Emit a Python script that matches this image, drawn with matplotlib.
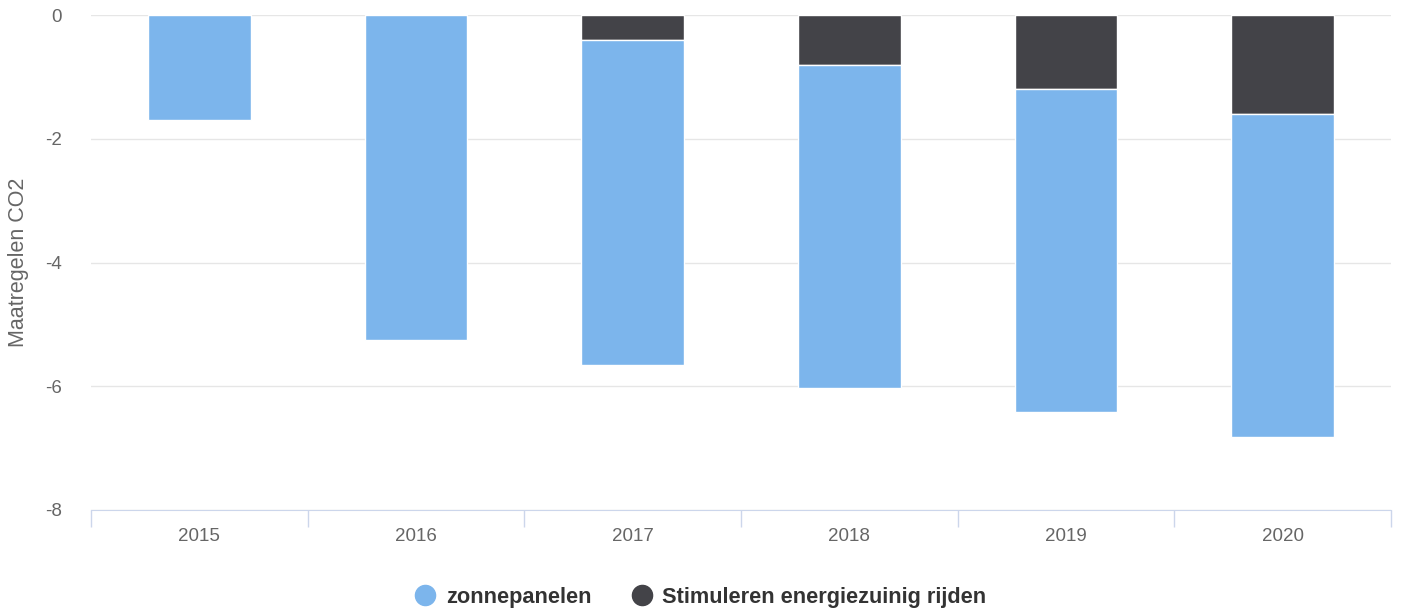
import matplotlib.pyplot as plt
import numpy as np

plt.rcParams['font.family'] = ['Liberation Sans', 'DejaVu Sans']

years = ['2015', '2016', '2017', '2018', '2019', '2020']
zonnepanelen = [-1.70, -5.25, -5.26, -5.22, -5.22, -5.22]
stimuleren = [0.0, 0.0, -0.40, -0.81, -1.20, -1.60]

blue = '#7cb5ec'
dark = '#434348'
txt = '#666666'

fig = plt.figure(figsize=(14.01, 6.14), dpi=100)
ax = fig.add_axes([91 / 1401, 104 / 614, 1300 / 1401, 495 / 614])

x = np.arange(len(years))
w = 0.475
ax.bar(x, stimuleren, width=w, color=dark, edgecolor='white', linewidth=1, zorder=3)
ax.bar(x, zonnepanelen, width=w, bottom=stimuleren, color=blue, edgecolor='white',
       linewidth=1, zorder=3)

ax.set_xlim(-0.5, len(years) - 0.5)
ax.set_ylim(-8, 0)
ax.set_yticks([0, -2, -4, -6, -8])
ax.set_yticklabels(['0', '-2', '-4', '-6', '-8'])
ax.yaxis.grid(True, color='#e6e6e6', linewidth=1, zorder=0)
ax.tick_params(axis='y', length=0, labelsize=13.5, labelcolor=txt, pad=21)

ax.set_xticks(x)
ax.set_xticklabels(years)
ax.set_xticks(np.arange(-0.5, len(years)), minor=True)
ax.tick_params(axis='x', which='major', length=0, labelsize=13.5, labelcolor=txt, pad=13)
ax.tick_params(axis='x', which='minor', length=12, color='#ccd6eb', width=1)

for s in ['top', 'right', 'left']:
    ax.spines[s].set_visible(False)
ax.spines['bottom'].set_color('#ccd6eb')

ax.set_ylabel('Maatregelen CO2', color=txt, fontsize=15.5)
ax.yaxis.set_label_coords(-0.048, 0.5)

# legend
handles = [plt.Line2D([], [], marker='o', linestyle='', markersize=14.5, color=c)
           for c in (blue, dark)]
leg = fig.legend(handles, ['zonnepanelen', 'Stimuleren energiezuinig rijden'],
                 loc='center', bbox_to_anchor=(0.5, 1 - 597 / 614), ncol=2, frameon=False,
                 prop={'weight': 'bold', 'size': 15.7}, handletextpad=0.45,
                 columnspacing=1.8, handlelength=1.0)
for t in leg.get_texts():
    t.set_color('#333333')

fig.savefig('out.png', dpi=100)
